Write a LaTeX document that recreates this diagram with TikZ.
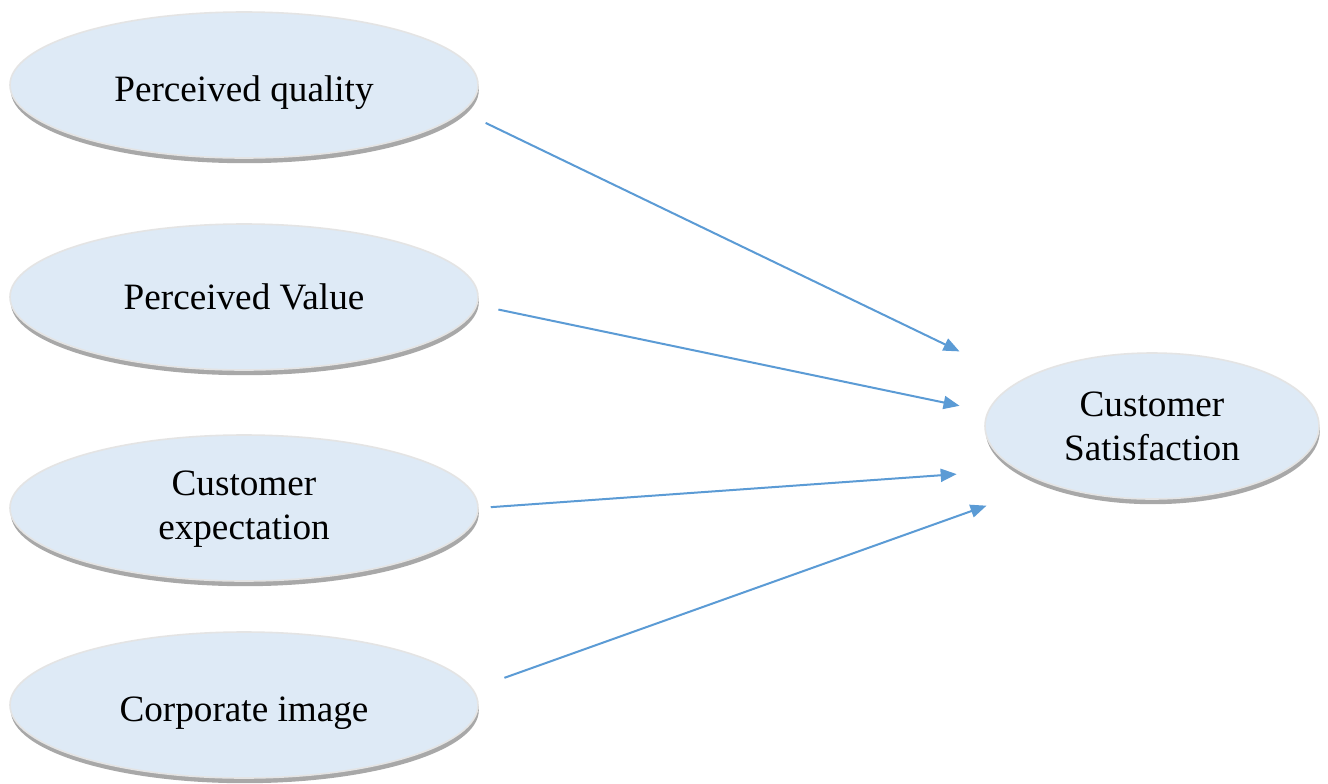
\documentclass[tikz,border=0pt]{standalone}
\usepackage{fontspec}
\setmainfont{Liberation Serif}
\usetikzlibrary{positioning,shapes.geometric,shadows,arrows.meta}

\definecolor{factorfill}{HTML}{DEEAF6}
\definecolor{rimgray}{HTML}{E4E4E4}
\definecolor{shadowgray}{HTML}{A8A8A8}
\definecolor{linkblue}{HTML}{5B9BD5}

\begin{document}
\begin{tikzpicture}[x=0.5pt, y=-0.5pt, on grid, auto,
    factor/.style={ellipse, fill=factorfill, draw=rimgray, line width=0.8pt,
        minimum width=234pt, minimum height=73pt, inner sep=0pt, align=center,
        font=\fontsize{18.6}{22}\selectfont,
        drop shadow={shadow xshift=0.4pt, shadow yshift=-2.6pt, fill=shadowgray, opacity=1}},
    outcome/.style={factor, minimum width=167pt},
    sunk/.style={text height=#1, text depth=4pt},
    link/.style={draw=linkblue, fill=linkblue, line width=1pt,
        -{Triangle[length=8pt,width=6.5pt]}}]
    \fill[white] (0,0) rectangle (1328,783);
    \useasboundingbox (0,0) rectangle (1328,783);

    % determinants on the left
    \node[factor, sunk=20.7pt] (quality)                        at (244,85) {Perceived quality};
    \node[factor]              (value)       [below=106pt of quality]       {Perceived Value};
    \node[factor, sunk=35pt]   (expectation) [below=105.5pt of value]       {Customer\\expectation};
    \node[factor, sunk=20.7pt] (image)       [below=98.5pt of expectation]  {Corporate image};

    % outcome on the right
    \node[outcome] (satisfaction) at (1152,426) {Customer\\Satisfaction};

    \draw[link, shorten <=12.75pt, shorten >=33.5pt]  (quality.-7.4)  -- (satisfaction.161.8);
    \draw[link, shorten <=10.75pt, shorten >=14.25pt] (value.-2.9)    -- (satisfaction.175.3);
    \draw[link, shorten <=6pt,     shorten >=30.25pt] (expectation.0) -- (satisfaction.198.5);
    \draw[link, shorten <=16.6pt,  shorten >=32.5pt]  (image.4.8)     -- (satisfaction.209);
\end{tikzpicture}
\end{document}
